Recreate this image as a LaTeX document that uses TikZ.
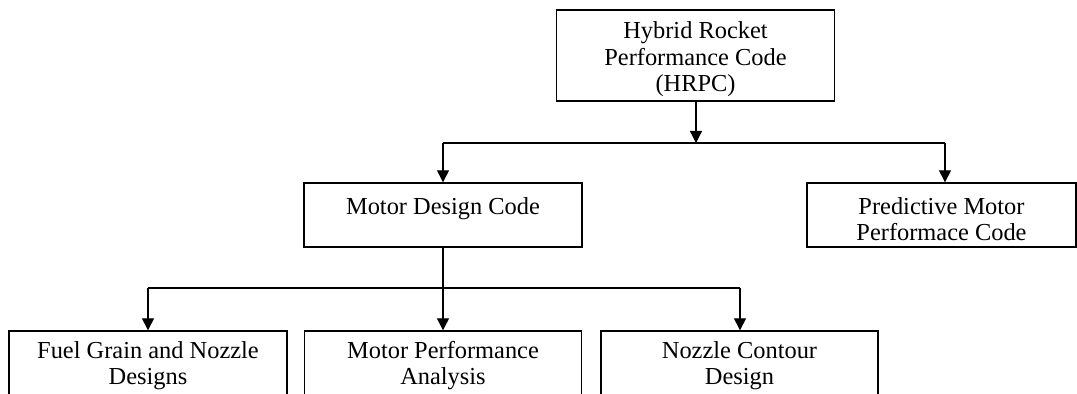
\documentclass[tikz,border=0pt]{standalone}
\usepackage{fontspec}
\setmainfont{Liberation Serif}
\usetikzlibrary{arrows.meta}
\begin{document}
\begin{tikzpicture}[x=0.5pt,y=-0.5pt,
  box/.style={draw, line width=0.7pt, inner sep=0pt},
  txt/.style={anchor=north, inner sep=0pt, align=center,
    font=\fontsize{12.2}{13.2}\selectfont},
  link/.style={line width=0.7pt},
  arr/.style={line width=0.7pt, -{Triangle[length=6pt,width=6pt]}}]
\useasboundingbox (0,0) rectangle (1077,394);
\clip (0,0) rectangle (1077,394);
% boxes
\node[box, minimum width=139pt, minimum height=45.5pt] (hrpc) at (695.5,55.5) {};
\node[box, minimum width=139pt, minimum height=32pt] (mdc) at (443,215) {};
\node[box, minimum width=134.5pt, minimum height=32pt] (pmc) at (941.5,215) {};
\node[box, minimum width=139pt, minimum height=33.5pt] (fuel) at (148,364.5) {};
\node[box, minimum width=138.5pt, minimum height=33.5pt] (mpa) at (443,364.5) {};
\node[box, minimum width=138.5pt, minimum height=33.5pt] (ncd) at (739.5,364.5) {};
% texts
\node[txt] (hrpct) at (695.5,20) {\strut Hybrid Rocket\\\strut Performance Code\\\strut (HRPC)};
\node[txt] (mdct) at (443,195.5) {\strut Motor Design Code};
\node[txt] (pmct) at (941.5,195.5) {\strut Predictive Motor\\\strut Performace Code};
\node[txt] (fuelt) at (148,339.5) {\strut Fuel Grain and Nozzle\\\strut Designs};
\node[txt] (mpat) at (443,339.5) {\strut Motor Performance\\\strut Analysis};
\node[txt] (ncdt) at (739.5,339.5) {\strut Nozzle Contour\\\strut Design};
% connectors
\coordinate (j1) at (696,143);
\coordinate (j1l) at (443,143);
\coordinate (j1r) at (945,143);
\coordinate (j2) at (443,288);
\coordinate (j2l) at (148,288);
\coordinate (j2r) at (740,288);
\draw[arr] (hrpc.south -| j1) -- (j1);
\draw[link] (j1l) -- (j1r);
\draw[arr] (j1l) -- (mdc.north);
\draw[arr] (j1r) -- (j1r |- pmc.north);
\draw[link] (mdc.south) -- (j2);
\draw[link] (j2l) -- (j2r);
\draw[arr] (j2l) -- (fuel.north);
\draw[arr] (j2) -- (mpa.north);
\draw[arr] (j2r) -- (j2r |- ncd.north);
\end{tikzpicture}
\end{document}
